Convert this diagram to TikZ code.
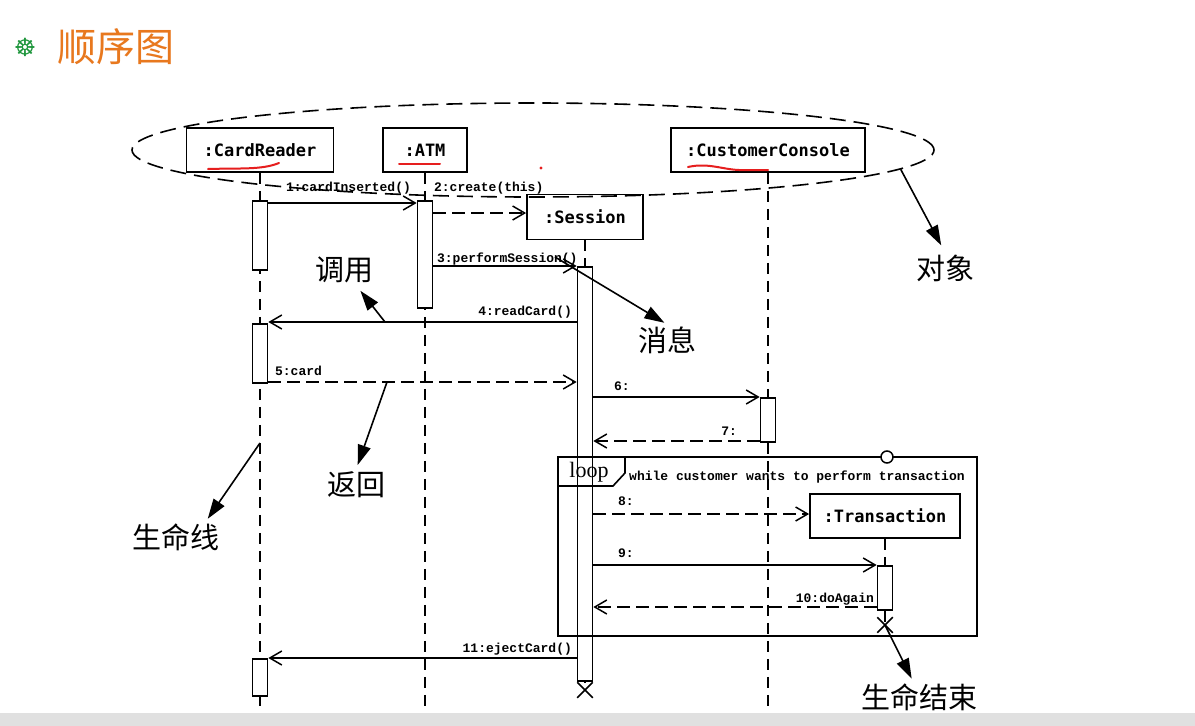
\documentclass[tikz,border=0pt]{standalone}
\usepackage{fontspec}
\setmainfont{Liberation Serif}
\setmonofont{Liberation Mono}
\newfontfamily\cjkfont{Noto Sans CJK SC}
\newfontfamily\objfont{DejaVu Sans Mono}
\newfontfamily\iconfont{DejaVu Sans}
\usetikzlibrary{positioning, arrows.meta, shapes, calc}
\definecolor{titleorange}{RGB}{232,120,30}
\definecolor{icongreen}{RGB}{30,150,60}
\definecolor{penred}{RGB}{230,30,30}

\begin{document}
\begin{tikzpicture}[x=1pt, y=-1pt,
  objbox/.style={draw, line width=1.8pt, fill=white, minimum height=44pt, font=\objfont\bfseries\fontsize{17}{17}\selectfont},
  actbar/.style={draw, line width=1.7pt, fill=white, minimum width=15pt, anchor=north},
  lifeline/.style={line width=1.5pt, dash pattern=on 11pt off 7pt},
  msgline/.style={line width=1.5pt, -{Straight Barb[length=12pt,width=14pt]}},
  retline/.style={msgline, dash pattern=on 13pt off 6pt},
  msglabel/.style={font=\ttfamily\bfseries\fontsize{13}{13}\selectfont, inner sep=0pt},
  annot/.style={font=\cjkfont\fontsize{29}{29}\selectfont, inner sep=2pt},
  pointer/.style={line width=1.6pt, -{Triangle[length=20pt,width=13pt]}},
  endcross/.style={draw, cross out, line width=1.5pt, minimum size=14pt, inner sep=0pt},
  redpen/.style={penred, line width=2pt, line cap=round}
]
\useasboundingbox (0,0) rectangle (1195,726);
\fill[white] (0,0) rectangle (1195,726);
\fill[black!12] (0,713) rectangle (1195,726);

% Title
\node[text=icongreen, font=\iconfont\bfseries\fontsize{25}{25}\selectfont, inner sep=0pt] (icon) at (25,47) {☸};
\node[text=titleorange, font=\cjkfont\fontsize{39}{39}\selectfont, anchor=west, inner sep=0pt] (title) at (57,47) {顺序图};

% Objects
\node[objbox, minimum width=147pt] (reader) at (260,150) {:CardReader};
\node[objbox, minimum width=84pt] (atm) at (425,150) {:ATM};
\node[objbox, minimum width=194pt] (console) at (768,150) {:CustomerConsole};
\node[objbox, minimum width=116pt, minimum height=45pt] (session) at (585,217) {:Session};
\node[objbox, minimum width=150pt] (trans) at (885,516) {:Transaction};

% Lifelines
\coordinate (bottom) at (0,707);
\node[endcross] (sesEnd) at (585,690) {};
\node[endcross] (trEnd) at (885,625) {};
\draw[lifeline] (reader.south) -- (reader.south |- bottom);
\draw[lifeline] (atm.south) -- (atm.south |- bottom);
\draw[lifeline] (console.south) -- (console.south |- bottom);
\draw[lifeline] (session.south) -- (sesEnd.center);
\draw[lifeline] (trans.south) -- (trEnd.center);

% Activations
\node[actbar, minimum height=69pt] (ra1) at (260,200) {};
\node[actbar, minimum height=59pt] (ra2) at (260,323) {};
\node[actbar, minimum height=37pt] (ra3) at (260,658) {};
\node[actbar, minimum height=107pt] (aa1) at (425,200) {};
\node[actbar, minimum height=414pt] (sa1) at (585,266) {};
\node[actbar, minimum height=44pt] (ca1) at (768,397) {};
\node[actbar, minimum height=44pt] (ta1) at (885,565) {};

% Messages
\draw[msgline] (ra1.east |- 0,203) -- (aa1.west |- 0,203)
  node[msglabel, pos=1, anchor=base east, xshift=-5pt, yshift=12pt] {1:cardInserted()};
\draw[retline] (aa1.east |- 0,213) -- (session.west |- 0,213)
  node[msglabel, pos=0, anchor=base west, yshift=22pt] {2:create(this)};
\draw[msgline] (aa1.east |- 0,266) -- (sa1.west |- 0,266)
  node[msglabel, pos=0, anchor=base west, xshift=3pt, yshift=4pt] {3:performSession()};
\draw[msgline] (sa1.west |- 0,322) -- (ra2.east |- 0,322)
  node[msglabel, pos=0, anchor=base east, xshift=-4pt, yshift=7pt] {4:readCard()};
\draw[retline] (ra2.east |- 0,382) -- (sa1.west |- 0,382)
  node[msglabel, pos=0, anchor=base west, xshift=6pt, yshift=7pt] {5:card};
\draw[msgline] (sa1.east |- 0,397) -- (ca1.west |- 0,397)
  node[msglabel, pos=0, anchor=base west, xshift=20pt, yshift=7pt] {6:};
\draw[retline] (ca1.west |- 0,441) -- (sa1.east |- 0,441)
  node[msglabel, pos=0, anchor=base east, xshift=-22pt, yshift=6pt] {7:};
\draw[retline] (sa1.east |- 0,514) -- (trans.west |- 0,514)
  node[msglabel, pos=0, anchor=base west, xshift=24pt, yshift=9pt] {8:};
\draw[msgline] (sa1.east |- 0,565) -- (ta1.west |- 0,565)
  node[msglabel, pos=0, anchor=base west, xshift=24pt, yshift=8pt] {9:};
\draw[retline] (ta1.west |- 0,607) -- (sa1.east |- 0,607)
  node[msglabel, pos=0, anchor=base east, xshift=-2pt, yshift=5pt] {10:doAgain};
\draw[msgline] (sa1.west |- 0,658) -- (ra3.east |- 0,658)
  node[msglabel, pos=0, anchor=base east, xshift=-4pt, yshift=6pt] {11:ejectCard()};

% Loop frame
\draw[line width=1.6pt] (558,457) rectangle (977,636);
\draw[line width=1.6pt] (558,486) -- (613,486) -- (625,473) -- (625,457);
\node[font=\fontsize{22}{22}\selectfont, inner sep=0pt, anchor=base] (loopTag) at (589,477) {loop};
\node[msglabel, anchor=base west] (guardText) at (629,480) {while customer wants to perform transaction};
\node[draw, circle, fill=white, line width=1.5pt, minimum size=12pt, inner sep=0pt] (guard) at (887,457) {};

% Object group
\node[draw, ellipse, line width=1.6pt, dash pattern=on 16pt off 8pt, minimum width=802pt, minimum height=94pt] (group) at (533,150) {};

% Red pen marks
\draw[redpen] (208,169) .. controls (240,168) and (262,170) .. (279,163);
\draw[redpen] (399,164) -- (440,164);
\draw[redpen] (688,167) .. controls (710,162) and (725,171) .. (745,170) -- (768,170);
\fill[penred] (541,168) circle (1.6pt);

% Annotations
\node[annot] (callNote) at (344,270) {调用};
\node[annot] (msgNote) at (667,340) {消息};
\node[annot] (objNote) at (945,268) {对象};
\node[annot] (retNote) at (356,485) {返回};
\node[annot] (lifeNote) at (176,537) {生命线};
\node[annot] (endNote) at (919,697) {生命结束};
\coordinate (callFrom) at (385,322);
\coordinate (msgFrom) at (555,257);
\coordinate (retFrom) at (387,382);
\coordinate (lifeFrom) at (260,443);
\draw[pointer, shorten >=7pt] (callFrom) -- (callNote);
\draw[pointer, shorten >=3pt] (msgFrom) -- (msgNote.north);
\draw[pointer, shorten >=8pt] (group.-3) -- (objNote.north);
\draw[pointer, shorten >=5pt] (retFrom) -- (retNote.north);
\draw[pointer, shorten >=3pt] (lifeFrom) -- ($(lifeNote.north)+(30,0)$);
\draw[pointer, shorten >=3pt] (trEnd.center) -- ($(endNote.north)+(-6,0)$);
\end{tikzpicture}
\end{document}
